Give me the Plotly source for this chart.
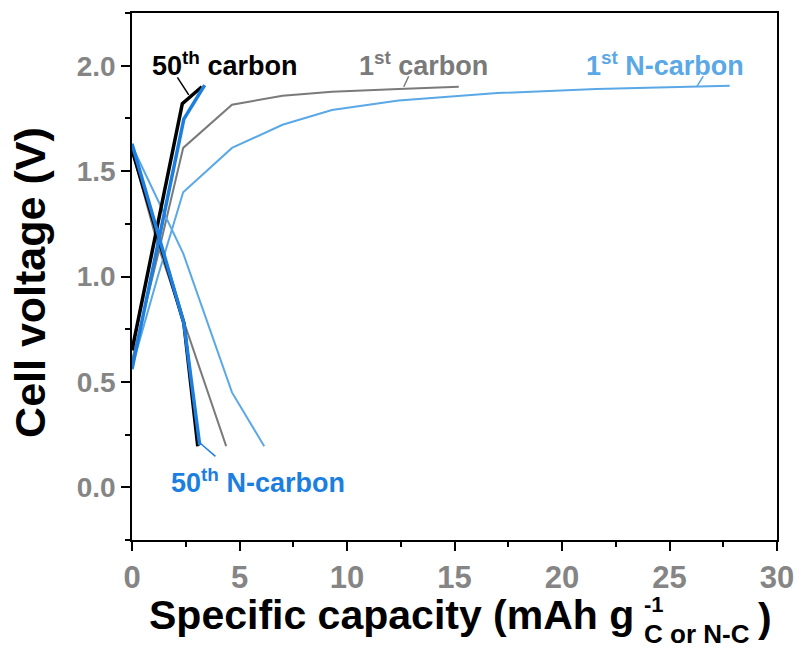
import plotly.graph_objects as go

# ---- data ----
c1_charge_x = [0.0, 1.2, 2.38, 4.65, 7.0, 9.3, 12.4, 15.2]
c1_charge_y = [0.60, 1.10, 1.61, 1.815, 1.857, 1.876, 1.89, 1.90]
c1_dis_x = [0.0, 1.2, 2.43, 3.5, 4.38]
c1_dis_y = [1.60, 1.15, 0.78, 0.46, 0.195]

n1_charge_x = [0.0, 1.2, 2.38, 4.65, 7.0, 9.3, 12.4, 17.0, 21.6, 27.8]
n1_charge_y = [0.57, 1.00, 1.40, 1.61, 1.72, 1.79, 1.835, 1.87, 1.89, 1.905]
n1_dis_x = [0.0, 1.2, 2.38, 4.65, 6.15]
n1_dis_y = [1.62, 1.36, 1.11, 0.45, 0.195]

c50_charge_x = [0.0, 2.34, 3.25]
c50_charge_y = [0.65, 1.82, 1.90]
c50_dis_x = [0.0, 2.41, 3.06]
c50_dis_y = [1.60, 0.78, 0.195]

n50_charge_x = [0.0, 2.41, 3.38]
n50_charge_y = [0.56, 1.747, 1.908]
n50_dis_x = [0.0, 2.41, 3.15]
n50_dis_y = [1.63, 0.78, 0.20]

# labels and their leader lines (data coords)
labels = ["50<sup>th</sup> carbon", "1<sup>st</sup> carbon", "1<sup>st</sup> N-carbon", "50<sup>th</sup> N-carbon"]
label_x = [4.29, 13.57, 24.8, 5.88]
label_y = [2.01, 2.01, 2.01, 0.03]
leader_x = [[2.11, 2.64], [12.87, 12.64], [26.57, 26.26], [3.11, 3.88]]
leader_y = [[1.945, 1.862], [1.95, 1.90], [1.95, 1.90], [0.215, 0.147]]

x_ticks = [0, 5, 10, 15, 20, 25, 30]
y_ticks = [0.0, 0.5, 1.0, 1.5, 2.0]

GRAY = "#7a7a7a"
LBLUE = "#5aa8e6"
BLUE = "#1c7fe0"
BLACK = "#000000"
colors = [BLACK, GRAY, LBLUE, BLUE]

fig = go.Figure()
series = [
    (c1_charge_x, c1_charge_y, GRAY, 2),
    (c1_dis_x, c1_dis_y, GRAY, 2),
    (n1_charge_x, n1_charge_y, LBLUE, 2),
    (n1_dis_x, n1_dis_y, LBLUE, 2),
    (c50_charge_x, c50_charge_y, BLACK, 3.5),
    (c50_dis_x, c50_dis_y, BLACK, 3.5),
    (n50_charge_x, n50_charge_y, BLUE, 3.5),
    (n50_dis_x, n50_dis_y, BLUE, 3.5),
]
for xs, ys, c, w in series:
    fig.add_trace(go.Scatter(x=xs, y=ys, mode="lines", line=dict(color=c, width=w),
                             showlegend=False, hoverinfo="skip"))

for lx, ly, c in zip(leader_x, leader_y, colors):
    fig.add_trace(go.Scatter(x=lx, y=ly, mode="lines", line=dict(color=c, width=1.5),
                             showlegend=False, hoverinfo="skip"))

FONT = "Liberation Sans, Arial, sans-serif"
for t, x, y, c in zip(labels, label_x, label_y, colors):
    fig.add_annotation(x=x, y=y, xref="x", yref="y", text=t, showarrow=False,
                       font=dict(family=FONT, size=27, color=c, weight="bold"),
                       xanchor="center", yanchor="middle")

# axis titles as annotations (paper coords)
fig.add_annotation(x=-0.158, y=0.488, xref="paper", yref="paper", text="Cell voltage (V)",
                   textangle=-90, showarrow=False,
                   font=dict(family=FONT, size=43, color="black", weight="bold"),
                   xanchor="center", yanchor="middle")
fig.add_annotation(x=0.023, y=-0.142, xref="paper", yref="paper", text="Specific capacity (mAh g",
                   showarrow=False, font=dict(family=FONT, size=41, color="black", weight="bold"),
                   xanchor="left", yanchor="middle")
fig.add_annotation(x=0.79, y=-0.122, xref="paper", yref="paper", text="-1",
                   showarrow=False, font=dict(family=FONT, size=22, color="black", weight="bold"),
                   xanchor="left", yanchor="middle")
fig.add_annotation(x=0.79, y=-0.178, xref="paper", yref="paper", text="C or N-C",
                   showarrow=False, font=dict(family=FONT, size=26, color="black", weight="bold"),
                   xanchor="left", yanchor="middle")
fig.add_annotation(x=0.968, y=-0.148, xref="paper", yref="paper", text=")",
                   showarrow=False, font=dict(family=FONT, size=41, color="black", weight="bold"),
                   xanchor="left", yanchor="middle")

fig.update_xaxes(range=[0, 30], tickvals=x_ticks, ticktext=[str(v) for v in x_ticks],
                 ticks="outside", ticklen=9, tickwidth=1.5, tickcolor="black",
                 minor=dict(dtick=2.5, ticks="outside", ticklen=5, tickwidth=1.5, tickcolor="black"),
                 showline=True, linewidth=1.5, linecolor="black", mirror=True,
                 showgrid=False, zeroline=False,
                 tickfont=dict(family=FONT, size=31, color="#858585", weight="bold"))
fig.update_yaxes(range=[-0.25, 2.25], tickvals=y_ticks, ticktext=["%.1f" % v for v in y_ticks],
                 ticks="outside", ticklen=9, tickwidth=1.5, tickcolor="black",
                 minor=dict(dtick=0.25, ticks="outside", ticklen=5, tickwidth=1.5, tickcolor="black"),
                 showline=True, linewidth=1.5, linecolor="black", mirror=True,
                 showgrid=False, zeroline=False,
                 tickfont=dict(family=FONT, size=28, color="#858585", weight="bold"))

fig.update_layout(width=805, height=650, margin=dict(l=132, r=19, t=11, b=110),
                  plot_bgcolor="white", paper_bgcolor="white")
fig.write_html("out.html")
